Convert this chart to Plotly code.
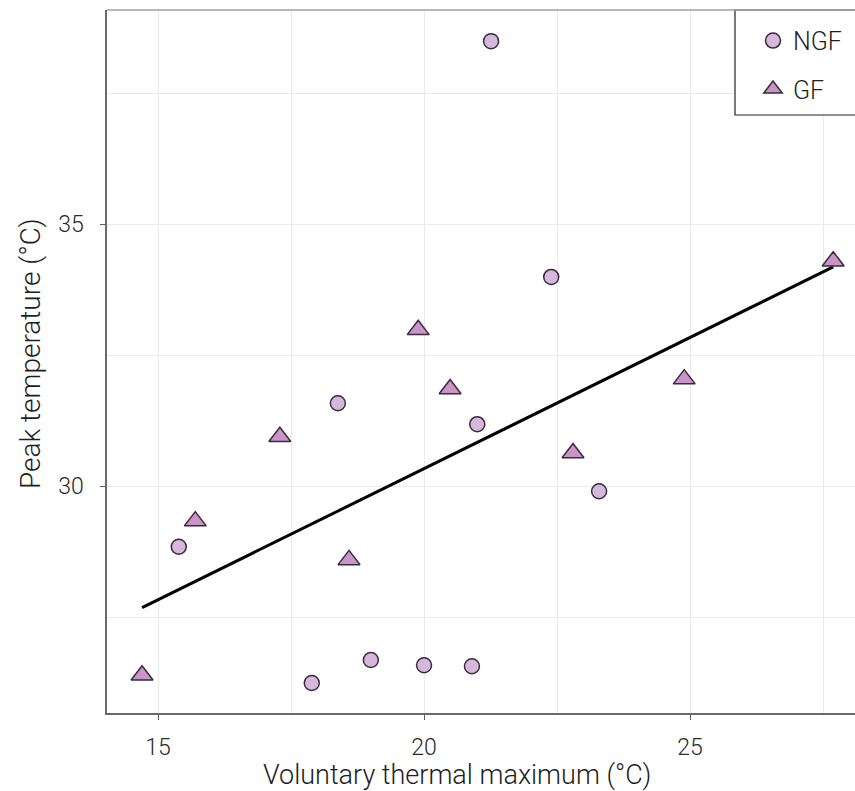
import numpy as np
import plotly.graph_objects as go

# Voluntary thermal maximum (°C) and peak temperature (°C) per species group
ngf_vtmax = [21.26, 22.39, 18.38, 21.00, 23.29, 15.39, 17.89, 19.00, 20.00, 20.90]
ngf_peak = [38.49, 33.99, 31.58, 31.18, 29.90, 28.84, 26.24, 26.68, 26.58, 26.56]

gf_vtmax = [27.69, 19.89, 20.49, 17.29, 24.89, 22.80, 15.70, 18.59, 14.70]
gf_peak = [34.29, 32.98, 31.85, 30.94, 32.04, 30.63, 29.33, 28.59, 26.39]

x_ticks = [15, 20, 25]
y_ticks = [30, 35]

FONT = "Roboto"
TEXT = "#1e1e1e"
LEGEND_X = (735 - 107) / 748
LEGEND_BOTTOM = (713 - 115) / 703

# least-squares fit over both groups together
all_x = np.array(ngf_vtmax + gf_vtmax)
all_y = np.array(ngf_peak + gf_peak)
slope, intercept = np.polyfit(all_x, all_y, 1)
fit_x = np.array([all_x.min(), all_x.max()])
fit_y = slope * fit_x + intercept

fig = go.Figure()

fig.add_trace(go.Scatter(
    x=fit_x, y=fit_y, mode="lines",
    line=dict(color="black", width=3),
    showlegend=False, hoverinfo="skip",
))

fig.add_trace(go.Scatter(
    x=ngf_vtmax, y=ngf_peak, mode="markers", name="NGF",
    legendgroup="ngf",
    marker=dict(symbol="circle", size=15, color="#d4b9da",
                line=dict(color="#3b2a3b", width=1.5)),
))

fig.add_trace(go.Scatter(
    x=gf_vtmax, y=gf_peak, mode="markers", name="GF",
    legendgroup="gf",
    marker=dict(symbol="triangle-up", size=19, color="#c994c7",
                line=dict(color="#3b2a3b", width=1.5)),
))

axis_common = dict(
    showgrid=True, gridcolor="#ebebeb", gridwidth=1.2,
    zeroline=False,
    showline=True, linecolor="#6a6a6a", linewidth=1.5,
    ticks="outside", ticklen=5, tickwidth=1.3, tickcolor="#5a5a5a",
    tickfont=dict(family=FONT, size=23, color="#2a2a2a", weight=300),
    minor=dict(dtick=2.5, showgrid=True, gridcolor="#ebebeb", gridwidth=1.2, ticks=""),
)

fig.update_xaxes(
    range=[14.041, 28.10], tickvals=x_ticks, ticklabelstandoff=8,
    **axis_common,
)
fig.update_yaxes(
    range=[25.668, 39.084], tickvals=y_ticks, ticklabelstandoff=12,
    **axis_common,
)

# legend frame, open to the right edge of the figure
fig.add_shape(type="rect", xref="paper", yref="paper",
              x0=LEGEND_X, x1=1.1, y0=LEGEND_BOTTOM, y1=1,
              line=dict(color="#222222", width=1.2), fillcolor="white", layer="above")

# light upper border of the panel
fig.add_shape(type="line", xref="paper", yref="paper", x0=0, x1=1, y0=1, y1=1,
              line=dict(color="#a0a0a0", width=1.5), layer="above")

fig.add_annotation(
    text="Voluntary thermal maximum (°C)", xref="paper", yref="paper",
    x=(457 - 107) / 748, y=0, yshift=-62, xanchor="center", yanchor="middle",
    showarrow=False, font=dict(family=FONT, size=27, color=TEXT, weight=300),
)
fig.add_annotation(
    text="Peak temperature (°C)", xref="paper", yref="paper",
    x=0, xshift=-77, y=(713 - 354) / 703, xanchor="center", yanchor="middle",
    textangle=-90, showarrow=False,
    font=dict(family=FONT, size=28, color=TEXT, weight=300),
)

fig.update_layout(
    width=855, height=791,
    margin=dict(l=107, r=0, t=10, b=78, autoexpand=False),
    paper_bgcolor="white", plot_bgcolor="white",
    legend=dict(
        x=LEGEND_X, y=1, xanchor="left", yanchor="top",
        borderwidth=0, bgcolor="rgba(0,0,0,0)",
        font=dict(family=FONT, size=25, color=TEXT, weight=300),
        tracegroupgap=13,
        title=dict(text=" ", font=dict(size=6)),
        indentation=18,
    ),
)

fig.write_html("out.html")
